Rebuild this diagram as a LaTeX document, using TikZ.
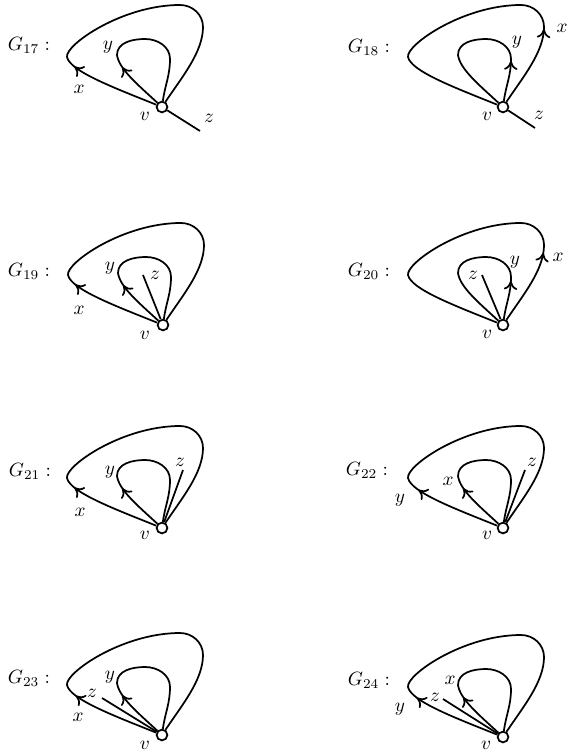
\documentclass[tikz,border=0pt]{standalone}
\usepackage{amsmath,amssymb}
\usepackage{tikz}
\usetikzlibrary{arrows.meta,decorations.markings}
\tikzset{
  vtx/.style   = {circle, draw=black, fill=white, line width=0.9pt,
                  minimum size=5.6pt, inner sep=0pt},
  lbl/.style   = {inner sep=0pt},
  edg/.style   = {line width=0.9pt, black},
  arrfw/.style = {postaction={decorate}, decoration={markings,
                  mark=at position #1 with {\arrow{To[length=4.5pt,width=7pt]}}}},
  arrbw/.style = {postaction={decorate}, decoration={markings,
                  mark=at position #1 with {\arrowreversed{To[length=4.5pt,width=7pt]}}}},
}

\begin{document}
\begin{tikzpicture}[x=0.52pt, y=0.52pt]

  \useasboundingbox (0,0) rectangle (566,-756);

  % G17
  \begin{scope}[shift={(162,-107)}]
    \node[vtx] (v17) at (0,0) {};
    \coordinate (tz17) at (38,-24);
    \draw[edg, arrfw=47pt] (v17) .. controls (-50,20) and (-92,36) .. (-95,50)
          .. controls (-97,62) and (-40,102) .. (18,102)
          to[out=0,in=90] (41,80) .. controls (41,55) and (20,30) .. (v17);
    \draw[edg, arrfw=26pt] (v17) .. controls (-25,23) and (-43,38) .. (-45,52)
          to[out=90,in=180] (-17,68) to[out=0,in=90] (8,48) to[out=-90,in=82] (v17);
    \draw[edg] (v17) -- (tz17);
    \node[lbl] (g17)  at (-133,62) {$G_{17}:$};
    \node[lbl] (lx17) at (-83,18)  {$x$};
    \node[lbl] (ly17) at (-54,60)  {$y$};
    \node[lbl] (lz17) at (47,-11)  {$z$};
    \node[lbl] (lv17) at (-17,-9)  {$v$};
  \end{scope}

  % G18
  \begin{scope}[shift={(503,-107)}]
    \node[vtx] (v18) at (0,0) {};
    \coordinate (tz18) at (32,-21);
    \draw[edg, arrbw=-43pt] (v18) .. controls (-50,20) and (-92,36) .. (-95,50)
          .. controls (-97,62) and (-40,102) .. (18,102)
          to[out=0,in=90] (41,80) .. controls (41,55) and (20,30) .. (v18);
    \draw[edg, arrbw=-21pt] (v18) .. controls (-25,23) and (-43,38) .. (-45,52)
          to[out=90,in=180] (-17,68) to[out=0,in=90] (8,48) to[out=-90,in=82] (v18);
    \draw[edg] (v18) -- (tz18);
    \node[lbl] (g18)  at (-134,60) {$G_{18}:$};
    \node[lbl] (lx18) at (59,79)   {$x$};
    \node[lbl] (ly18) at (14,65)   {$y$};
    \node[lbl] (lz18) at (36,-8)   {$z$};
    \node[lbl] (lv18) at (-16,-9)  {$v$};
  \end{scope}

  % G19
  \begin{scope}[shift={(163,-325)}]
    \node[vtx] (v19) at (0,0) {};
    \coordinate (tz19) at (-20,50);
    \draw[edg, arrfw=47pt] (v19) .. controls (-50,20) and (-92,36) .. (-95,50)
          .. controls (-97,62) and (-40,102) .. (18,102)
          to[out=0,in=90] (41,80) .. controls (41,55) and (20,30) .. (v19);
    \draw[edg, arrfw=26pt] (v19) .. controls (-25,23) and (-43,38) .. (-45,52)
          to[out=90,in=180] (-17,68) to[out=0,in=90] (8,48) to[out=-90,in=82] (v19);
    \draw[edg] (v19) -- (tz19);
    \node[lbl] (g19)  at (-134,54) {$G_{19}:$};
    \node[lbl] (lx19) at (-84,15)  {$x$};
    \node[lbl] (ly19) at (-53,57)  {$y$};
    \node[lbl] (lz19) at (-8,50)   {$z$};
    \node[lbl] (lv19) at (-18,-10) {$v$};
  \end{scope}

  % G20
  \begin{scope}[shift={(503,-325)}]
    \node[vtx] (v20) at (0,0) {};
    \coordinate (tz20) at (-21,50);
    \draw[edg, arrbw=-40pt] (v20) .. controls (-50,20) and (-92,36) .. (-95,50)
          .. controls (-97,62) and (-40,102) .. (18,102)
          to[out=0,in=90] (41,80) .. controls (41,55) and (20,30) .. (v20);
    \draw[edg, arrbw=-20pt] (v20) .. controls (-25,23) and (-43,38) .. (-45,52)
          to[out=90,in=180] (-17,68) to[out=0,in=90] (8,48) to[out=-90,in=82] (v20);
    \draw[edg] (v20) -- (tz20);
    \node[lbl] (g20)  at (-134,54) {$G_{20}:$};
    \node[lbl] (lx20) at (55,68)   {$x$};
    \node[lbl] (ly20) at (12,63)   {$y$};
    \node[lbl] (lz20) at (-30,50)  {$z$};
    \node[lbl] (lv20) at (-16,-9)  {$v$};
  \end{scope}

  % G21
  \begin{scope}[shift={(162,-528)}]
    \node[vtx] (v21) at (0,0) {};
    \coordinate (tz21) at (21,58);
    \draw[edg, arrfw=47pt] (v21) .. controls (-50,20) and (-92,36) .. (-95,50)
          .. controls (-97,62) and (-40,102) .. (18,102)
          to[out=0,in=90] (41,80) .. controls (41,55) and (20,30) .. (v21);
    \draw[edg, arrfw=26pt] (v21) .. controls (-25,23) and (-43,38) .. (-45,52)
          to[out=90,in=180] (-17,68) to[out=0,in=90] (8,48) to[out=-90,in=82] (v21);
    \draw[edg] (v21) -- (tz21);
    \node[lbl] (g21)  at (-132,57) {$G_{21}:$};
    \node[lbl] (lx21) at (-82,16)  {$x$};
    \node[lbl] (ly21) at (-52,56)  {$y$};
    \node[lbl] (lz21) at (18,66)   {$z$};
    \node[lbl] (lv21) at (-17,-7)  {$v$};
  \end{scope}

  % G22
  \begin{scope}[shift={(503,-528)}]
    \node[vtx] (v22) at (0,0) {};
    \coordinate (tz22) at (22,58);
    \draw[edg, arrfw=45pt] (v22) .. controls (-50,20) and (-92,36) .. (-95,50)
          .. controls (-97,62) and (-40,102) .. (18,102)
          to[out=0,in=90] (41,80) .. controls (41,55) and (20,30) .. (v22);
    \draw[edg, arrfw=26pt] (v22) .. controls (-25,23) and (-43,38) .. (-45,52)
          to[out=90,in=180] (-17,68) to[out=0,in=90] (8,48) to[out=-90,in=82] (v22);
    \draw[edg] (v22) -- (tz22);
    \node[lbl] (g22)  at (-136,58) {$G_{22}:$};
    \node[lbl] (lx22) at (-55,47)  {$x$};
    \node[lbl] (ly22) at (-103,28) {$y$};
    \node[lbl] (lz22) at (29,66)   {$z$};
    \node[lbl] (lv22) at (-16,-7)  {$v$};
  \end{scope}

  % G23
  \begin{scope}[shift={(162,-735)}]
    \node[vtx] (v23) at (0,0) {};
    \coordinate (tz23) at (-60,37);
    \draw[edg, arrfw=46pt] (v23) .. controls (-50,20) and (-92,36) .. (-95,50)
          .. controls (-97,62) and (-40,102) .. (18,102)
          to[out=0,in=90] (41,80) .. controls (41,55) and (20,30) .. (v23);
    \draw[edg, arrfw=26pt] (v23) .. controls (-25,23) and (-43,38) .. (-45,52)
          to[out=90,in=180] (-17,68) to[out=0,in=90] (8,48) to[out=-90,in=82] (v23);
    \draw[edg] (v23) -- (tz23);
    \node[lbl] (g23)  at (-133,57) {$G_{23}:$};
    \node[lbl] (lx23) at (-84,18)  {$x$};
    \node[lbl] (ly23) at (-52,58)  {$y$};
    \node[lbl] (lz23) at (-70,42)  {$z$};
    \node[lbl] (lv23) at (-17,-10) {$v$};
  \end{scope}

  % G24
  \begin{scope}[shift={(503,-737)}]
    \node[vtx] (v24) at (0,0) {};
    \coordinate (tz24) at (-60,38);
    \draw[edg, arrfw=46pt] (v24) .. controls (-50,20) and (-92,36) .. (-95,50)
          .. controls (-97,62) and (-40,102) .. (18,102)
          to[out=0,in=90] (41,80) .. controls (41,55) and (20,30) .. (v24);
    \draw[edg, arrfw=26pt] (v24) .. controls (-25,23) and (-43,38) .. (-45,52)
          to[out=90,in=180] (-17,68) to[out=0,in=90] (8,48) to[out=-90,in=82] (v24);
    \draw[edg] (v24) -- (tz24);
    \node[lbl] (g24)  at (-134,57) {$G_{24}:$};
    \node[lbl] (lx24) at (-53,57)  {$x$};
    \node[lbl] (ly24) at (-103,28) {$y$};
    \node[lbl] (lz24) at (-68,40)  {$z$};
    \node[lbl] (lv24) at (-17,-8)  {$v$};
  \end{scope}

\end{tikzpicture}
\end{document}
